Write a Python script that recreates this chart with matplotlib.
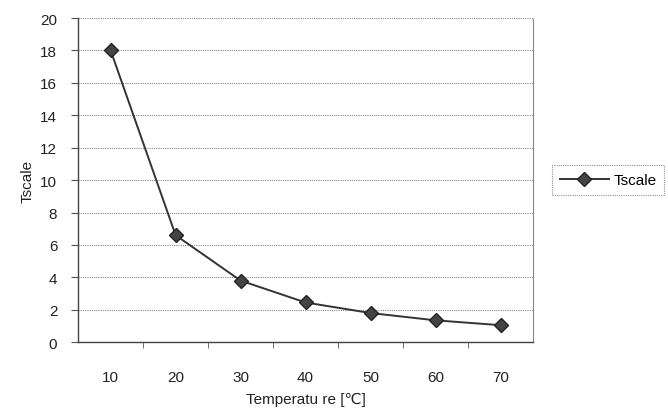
import numpy as np
import matplotlib
matplotlib.use("Agg")
import matplotlib.pyplot as plt

plt.rcParams['font.family'] = ['Liberation Sans', 'DejaVu Sans']

temps = [10, 20, 30, 40, 50, 60, 70]
tscale = [18.0, 6.6, 3.8, 2.45, 1.8, 1.35, 1.05]

fig = plt.figure(figsize=(6.68, 4.14), dpi=100)
ax = fig.add_axes([0.117, 0.171, 0.681, 0.783])

pos = np.arange(len(temps))
ax.plot(pos, tscale, color="#333333", lw=1.4, marker="D", ms=7,
        mfc="#444444", mec="#222222", label="Tscale")

ax.set_xlim(-0.5, len(temps) - 0.5)
ax.set_ylim(0, 20)
ax.set_yticks(np.arange(0, 21, 2))
ax.yaxis.grid(True, color="#888888", ls=(0, (1, 1)), lw=0.8)
ax.set_axisbelow(True)

# category axis: labels centred, ticks between categories
ax.set_xticks(pos)
ax.set_xticklabels([str(t) for t in temps])
ax.set_xticks(pos[:-1] + 0.5, minor=True)
ax.tick_params(axis="x", which="major", length=0, pad=20)
ax.tick_params(axis="x", which="minor", length=4, color="#555555")
ax.tick_params(axis="y", length=5, color="#555555", pad=10)
ax.tick_params(labelsize=11, labelcolor="#222222")

for side in ["left", "bottom"]:
    ax.spines[side].set_color("#444444")
    ax.spines[side].set_linewidth(1.0)
ax.spines["top"].set_visible(False)
ax.spines["right"].set_color("#888888")
ax.spines["right"].set_linestyle((0, (1, 1)))

ax.set_xlabel("Temperatu re [℃]", fontsize=11, color="#222222", labelpad=6)
ax.set_ylabel("Tscale", fontsize=11, color="#222222", labelpad=4)

leg = ax.legend(loc="center left", bbox_to_anchor=(1.025, 0.5), frameon=True,
                fancybox=False, fontsize=11, handlelength=3.2,
                borderpad=0.5, handletextpad=0.3)
leg.get_frame().set_edgecolor("#777777")
leg.get_frame().set_linestyle((0, (1, 1)))
leg.get_frame().set_linewidth(0.8)

fig.savefig("out.png", dpi=100)
